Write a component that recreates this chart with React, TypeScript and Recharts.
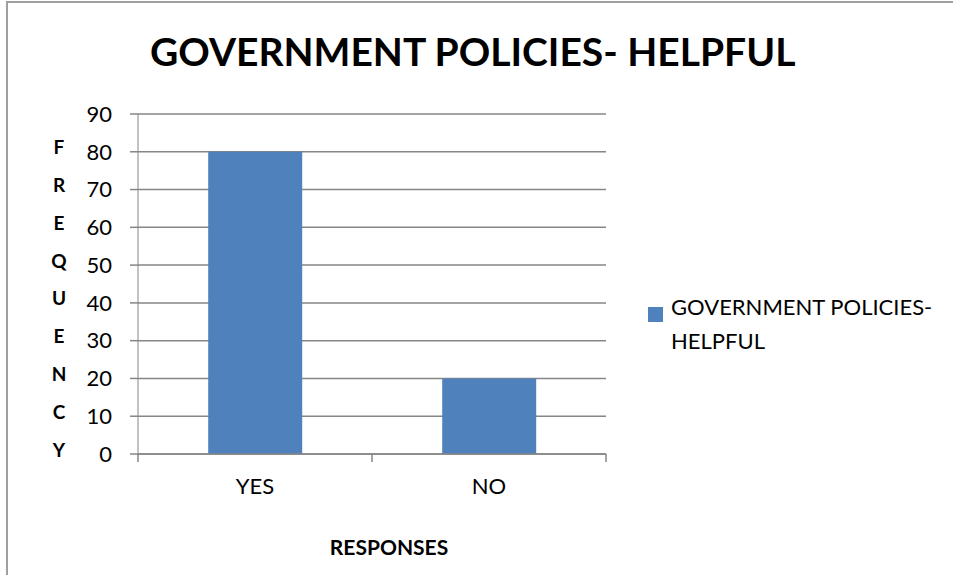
import React from 'react';
import { BarChart, Bar, XAxis, YAxis, CartesianGrid, Legend } from 'recharts';

const CATEGORIES = ['YES', 'NO'];
const FREQUENCY = [80, 20];
const Y_TICKS = [0, 10, 20, 30, 40, 50, 60, 70, 80, 90];
const Y_TITLE = ['F', 'R', 'E', 'Q', 'U', 'E', 'N', 'C', 'Y'];
const SERIES_NAME = 'GOVERNMENT POLICIES- HELPFUL';

const BAR_BLUE = '#4F81BD';
const AXIS_GREY = '#868686';
const FONT = 'Lato, "Open Sans", sans-serif';
const X_TICK_MARGIN = 24;

const data = CATEGORIES.map((c, i) => ({ response: c, value: FREQUENCY[i] }));

// vertical letter stack next to the value axis
function FreqLabel({ viewBox }: any) {
    const step = viewBox.height / Y_TITLE.length;
    return (
        <g>
            {Y_TITLE.map((ch, i) => (
                <text key={i} x={59} y={viewBox.y + (i + 0.87) * step} textAnchor="middle" dominantBaseline="central"
                    fontFamily={FONT} fontWeight={700} fontSize={19} fill="#000">
                    {ch}
                </text>
            ))}
        </g>
    );
}

// category label plus Excel-style tick marks on the category boundaries
function CategoryTick({ x, y, payload, index, visibleTicksCount }: any) {
    const half = payload.offset || 0;
    const axisY = y - X_TICK_MARGIN;
    const last = index === visibleTicksCount - 1;
    return (
        <g>
            <line x1={x - half} x2={x - half} y1={axisY} y2={axisY + 8} stroke={AXIS_GREY} strokeWidth={1.5} />
            {last && <line x1={x + half} x2={x + half} y1={axisY} y2={axisY + 8} stroke={AXIS_GREY} strokeWidth={1.5} />}
            <text x={x} y={y} dy="0.71em" textAnchor="middle" fontFamily={FONT} fontSize={22} fill="#000">
                {payload.value}
            </text>
        </g>
    );
}

function LegendBox({ payload }: any) {
    const item = payload && payload[0];
    return (
        <div style={{ display: 'flex', alignItems: 'flex-start', fontFamily: FONT, fontSize: 22, color: '#000' }}>
            <span style={{ width: 15, height: 15, background: item ? item.color : BAR_BLUE, marginTop: 7, marginRight: 8, flex: 'none' }} />
            <span style={{ width: 285, lineHeight: '34px', marginTop: -10 }}>{item ? item.value : SERIES_NAME}</span>
        </div>
    );
}

export default function App() {
    return (
        <div style={{ position: 'absolute', left: 0, top: 0, width: 953, height: 575, background: '#fff', overflow: 'hidden' }}>
            <div style={{ position: 'absolute', left: 6, top: 1, width: 1000, height: 700, borderTop: '2px solid #A0A0A0', borderLeft: '2px solid #A0A0A0' }} />
            <div style={{ position: 'absolute', left: 150, top: 28, fontFamily: FONT, fontWeight: 700, fontSize: 39, whiteSpace: 'nowrap', color: '#000' }}>
                GOVERNMENT POLICIES- HELPFUL
            </div>
            <div style={{ position: 'absolute', left: 389, top: 546, transform: 'translate(-50%, -50%)', fontFamily: FONT, fontWeight: 700, fontSize: 21, color: '#000' }}>
                RESPONSES
            </div>
            <BarChart width={953} height={575} data={data} margin={{ top: 114, right: 347, bottom: 91, left: 78 }} barCategoryGap="30%">
                <CartesianGrid horizontal vertical={false} stroke={AXIS_GREY} strokeWidth={1.5} />
                <XAxis dataKey="response" tickLine={false} tickSize={0} tickMargin={X_TICK_MARGIN} height={30}
                    axisLine={{ stroke: AXIS_GREY, strokeWidth: 1.5 }} tick={<CategoryTick />} />
                <YAxis domain={[0, 90]} ticks={Y_TICKS} width={60} tickSize={8} tickMargin={18}
                    axisLine={{ stroke: AXIS_GREY }} tickLine={{ stroke: AXIS_GREY, strokeWidth: 1.5 }}
                    tick={{ fontSize: 22, fill: '#000', fontFamily: FONT }}
                    label={<FreqLabel />} />
                <Legend layout="vertical" align="center" verticalAlign="middle" content={<LegendBox />}
                    wrapperStyle={{ position: 'absolute', left: 648, top: 300, width: 300 }} />
                <Bar dataKey="value" name={SERIES_NAME} fill={BAR_BLUE} isAnimationActive={false} />
            </BarChart>
        </div>
    );
}
